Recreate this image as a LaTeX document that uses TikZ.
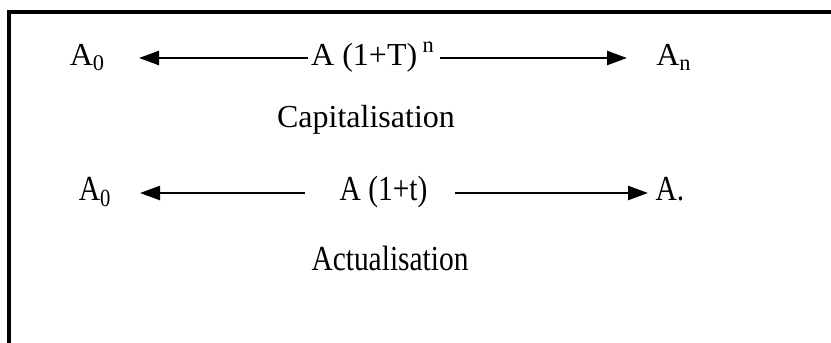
\documentclass[tikz,border=0pt]{standalone}
\usepackage{fontspec}
\setmainfont{Liberation Serif}
\usetikzlibrary{arrows.meta}
\usetikzlibrary{calc}

\begin{document}
\begin{tikzpicture}[x=0.5pt, y=-0.5pt,
    amount/.style={inner sep=0pt, font=\fontsize{16}{19}\selectfont,
        text height=10pt, text depth=3pt},
    mode/.style={inner sep=0pt, font=\fontsize{16}{19}\selectfont},
    flow/.style={-{Triangle[length=10pt, width=7pt]}, line width=1.2pt}
  ]
  \useasboundingbox (0,0) rectangle (831,343);

  % frame, only the top and left edges show
  \draw[line width=2pt] (9,343) -- (9,11.5) -- (831,11.5);

  % capitalisation row
  \node[amount] (a0cap) at (87.5,58) {A\textsubscript{0}};
  \node[amount] (formcap) at (373,58) {A (1+T)\,\textsuperscript{n}};
  \node[amount] (ancap) at (674,58) {A\textsubscript{n}};
  \node[mode] (capital) at (366,120) {Capitalisation};

  % actualisation row, set a little taller and narrower
  \node[amount, xscale=0.92, yscale=1.1] (a0act) at (95,193) {A\textsubscript{0}};
  \node[amount, xscale=0.92, yscale=1.1] (formact) at (383.5,193) {A (1+t)};
  \node[amount, xscale=0.92, yscale=1.1] (aact) at (670,193) {A.};
  \node[mode, xscale=0.92, yscale=1.1] (actual) at (390,258) {Actualisation};

  % arrows
  \draw[flow] ($(formcap.center)+(-65,0)$) -- ($(a0cap.center)+(51.5,0)$);
  \draw[flow] ($(formcap.center)+(67,0)$) -- ($(ancap.center)+(-47,0)$);
  \draw[flow] ($(formact.center)+(-78.5,0)$) -- ($(a0act.center)+(45,0)$);
  \draw[flow] ($(formact.center)+(71.5,0)$) -- ($(aact.center)+(-22,0)$);
\end{tikzpicture}
\end{document}
